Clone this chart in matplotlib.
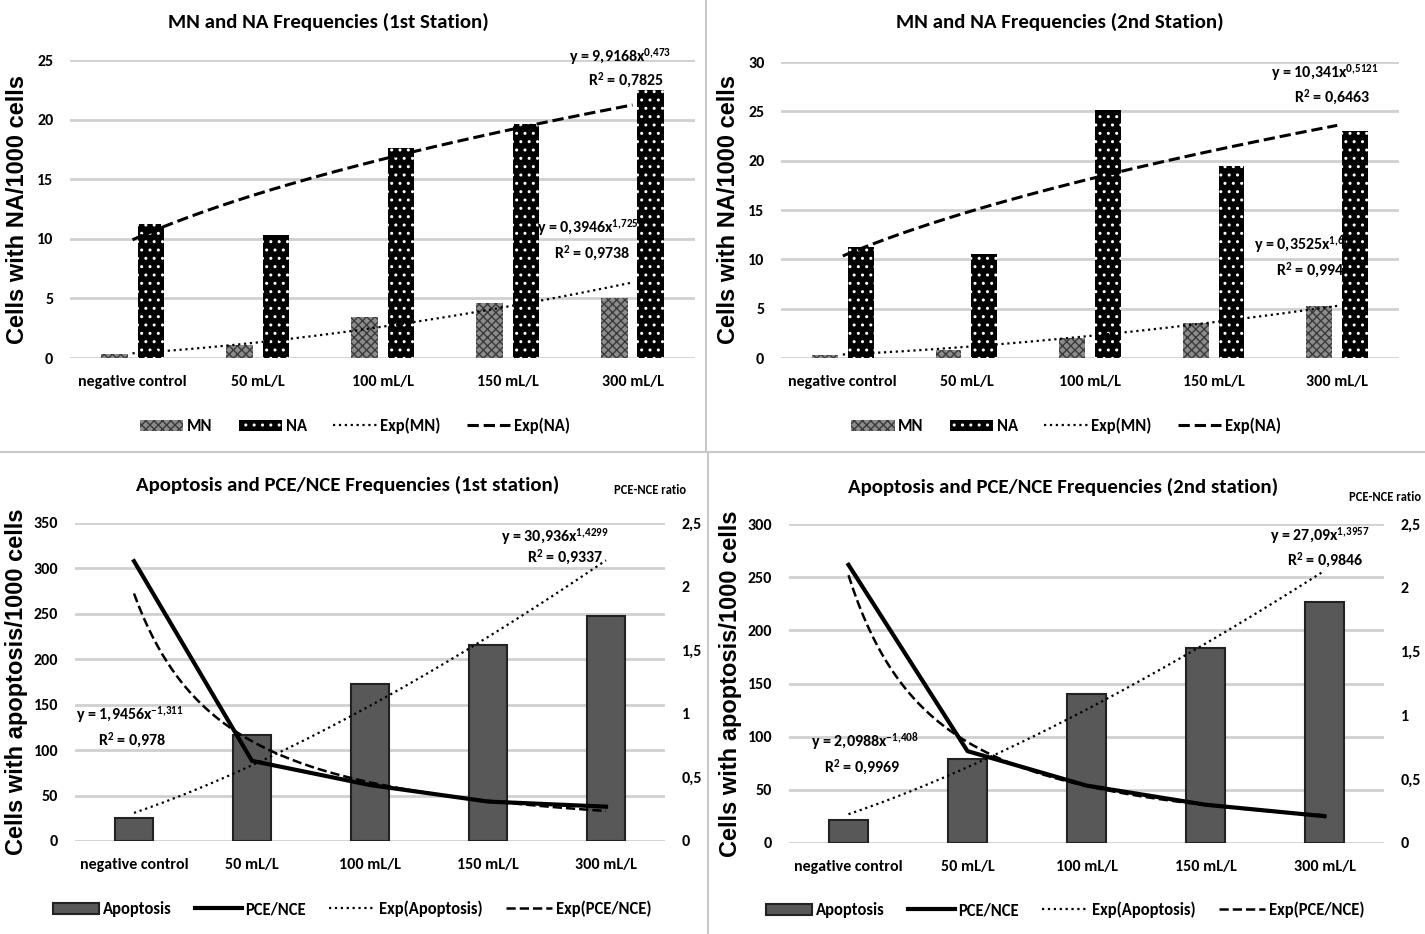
import matplotlib.pyplot as plt
import matplotlib.lines as mlines
import numpy as np

plt.rcParams['font.family'] = ['Carlito', 'Lato', 'DejaVu Sans']
plt.rcParams['font.weight'] = 'bold'
plt.rcParams['mathtext.default'] = 'regular'
plt.rcParams['hatch.linewidth'] = 1.0

W, H = 1425, 934

categories = ['negative control', '50 mL/L', '100 mL/L', '150 mL/L', '300 mL/L']

# bar / line values
mn_st1 = [0.3, 1.1, 3.4, 4.6, 5.0]
na_st1 = [11.2, 10.3, 17.6, 19.6, 22.5]
mn_st2 = [0.3, 0.8, 2.0, 3.5, 5.3]
na_st2 = [11.3, 10.5, 25.1, 19.5, 23.0]
apop_st1 = [25, 117, 173, 216, 248]
pce_st1 = [2.2, 0.63, 0.44, 0.31, 0.27]
apop_st2 = [22, 79, 140, 183, 227]
pce_st2 = [2.18, 0.72, 0.45, 0.30, 0.21]

# power trendlines y = a * x^b as printed on the charts
fit_mn_st1 = (0.3946, 1.725)
fit_na_st1 = (9.9168, 0.473)
fit_mn_st2 = (0.3525, 1.682)
fit_na_st2 = (10.341, 0.5121)
fit_apop_st1 = (30.936, 1.4299)
fit_pce_st1 = (1.9456, -1.311)
fit_apop_st2 = (27.09, 1.3957)
fit_pce_st2 = (2.0988, -1.408)

ratio_ticks = [0, 0.5, 1, 1.5, 2, 2.5]
ratio_labels = ['0', '0,5', '1', '1,5', '2', '2,5']

fig = plt.figure(figsize=(W / 100, H / 100), dpi=100)


def px_axes(x0, y0, x1, y1):
    return fig.add_axes([x0 / W, 1 - y1 / H, (x1 - x0) / W, (y1 - y0) / H])


def px_text(x, y, s, **kw):
    kw.setdefault('ha', 'center')
    kw.setdefault('va', 'center')
    fig.text(x / W, 1 - y / H, s, **kw)


def trend(ax, fit, **kw):
    a, b = fit
    xs = np.linspace(1, 5, 200)
    return ax.plot(xs - 1, a * xs ** b, color='black', zorder=4, **kw)[0]


def style(ax, top, step):
    ax.set_xlim(-0.5, 4.5)
    ax.set_ylim(0, top)
    ax.set_yticks(np.arange(0, top + 0.01, step))
    ax.set_xticks(range(5))
    ax.set_xticklabels(categories, fontsize=11.5)
    ax.tick_params(length=0, labelsize=11.5, pad=12)
    ax.grid(axis='y', color='#d0d0d0', lw=2)
    ax.set_axisbelow(True)
    for s in ax.spines.values():
        s.set_visible(False)


def equations(eqs):
    for ex, ey, s in eqs:
        px_text(ex, ey, s, fontsize=11.5)


def mn_na_panel(rect, mn, na, fit_mn, fit_na, top, step, title, tx, eqs, legx):
    ax = px_axes(*rect)
    style(ax, top, step)
    x = np.arange(5)
    b1 = ax.bar(x - 0.145, mn, 0.21, color='#8c8c8c', edgecolor='#3a3a3a',
                hatch='xxxx', lw=0, zorder=2)
    b2 = ax.bar(x + 0.145, na, 0.21, color='black', edgecolor='white',
                hatch='..', lw=0, zorder=2)
    l1 = trend(ax, fit_mn, ls=':', lw=1.6)
    l2 = trend(ax, fit_na, ls='--', lw=2.2)
    ax.set_ylabel('Cells with NA/1000 cells', family='Liberation Sans',
                  fontweight='bold', fontsize=17, labelpad=6)
    px_text(tx, 22, title, fontsize=15)
    equations(eqs)
    fig.legend([b1, b2, l1, l2], ['MN', 'NA', 'Exp(MN)', 'Exp(NA)'],
               loc='center', bbox_to_anchor=(legx / W, 1 - 426 / H), ncol=4,
               frameon=False, fontsize=12, handlelength=2.6, columnspacing=1.6,
               handletextpad=0.2)


def apop_panel(rect, apop, pce, fit_apop, fit_pce, top, title, tx, ratio_xy,
               eqs, legy):
    ax = px_axes(*rect)
    style(ax, top, 50)
    x = np.arange(5)
    b1 = ax.bar(x, apop, 0.32, color='#585858', edgecolor='#222222', lw=1.5,
                zorder=2)
    l3 = trend(ax, fit_apop, ls=':', lw=1.6)
    ax.set_ylabel('Cells with apoptosis/1000 cells', family='Liberation Sans',
                  fontweight='bold', fontsize=17, labelpad=4)
    ax2 = ax.twinx()
    ax2.set_xlim(-0.5, 4.5)
    ax2.set_ylim(0, 2.5)
    ax2.set_yticks(ratio_ticks)
    ax2.set_yticklabels(ratio_labels)
    ax2.tick_params(length=0, labelsize=11.5, pad=12)
    for s in ax2.spines.values():
        s.set_visible(False)
    l2 = ax2.plot(x, pce, color='black', lw=3, zorder=5)[0]
    l4 = trend(ax2, fit_pce, ls='--', lw=1.8)
    px_text(tx, title[1], title[0], fontsize=15)
    px_text(ratio_xy[0], ratio_xy[1], 'PCE-NCE ratio', fontsize=9)
    equations(eqs)
    fig.legend([b1, l2, l3, l4],
               ['Apoptosis', 'PCE/NCE', 'Exp(Apoptosis)', 'Exp(PCE/NCE)'],
               loc='center', bbox_to_anchor=(legy[0] / W, 1 - legy[1] / H),
               ncol=4, frameon=False, fontsize=12, handlelength=2.8,
               columnspacing=1.4, handletextpad=0.2)


mn_na_panel((70, 60, 695, 358), mn_st1, na_st1, fit_mn_st1, fit_na_st1, 25, 5,
            'MN and NA Frequencies (1st Station)', 328,
            [(620, 57, r'y = 9,9168x$^{0{,}473}$'), (626, 80, r'R$^{2}$ = 0,7825'),
             (588, 228, r'y = 0,3946x$^{1{,}725}$'), (592, 253, r'R$^{2}$ = 0,9738')],
            355)
mn_na_panel((781, 62, 1399, 358), mn_st2, na_st2, fit_mn_st2, fit_na_st2, 30, 5,
            'MN and NA Frequencies (2nd Station)', 1060,
            [(1325, 73, r'y = 10,341x$^{0{,}5121}$'), (1332, 97, r'R$^{2}$ = 0,6463'),
             (1305, 245, r'y = 0,3525x$^{1{,}682}$'), (1310, 270, r'R$^{2}$ = 0,994')],
            1066)
apop_panel((75, 523, 665, 841), apop_st1, pce_st1, fit_apop_st1, fit_pce_st1, 350,
           ('Apoptosis and PCE/NCE Frequencies (1st station)', 485), 348, (650, 490),
           [(555, 537, r'y = 30,936x$^{1{,}4299}$'), (565, 557, r'R$^{2}$ = 0,9337'),
            (130, 715, r'y = 1,9456x$^{-1{,}311}$'), (132, 740, r'R$^{2}$ = 0,978')],
           (352, 909))
apop_panel((789, 524, 1384, 843), apop_st2, pce_st2, fit_apop_st2, fit_pce_st2, 300,
           ('Apoptosis and PCE/NCE Frequencies (2nd station)', 487), 1063, (1385, 497),
           [(1320, 536, r'y = 27,09x$^{1{,}3957}$'), (1325, 560, r'R$^{2}$ = 0,9846'),
            (865, 742, r'y = 2,0988x$^{-1{,}408}$'), (862, 767, r'R$^{2}$ = 0,9969')],
           (1065, 910))

# panel borders
for xs, ys in [([706, 706], [0, 452]), ([0, W], [452, 452]), ([708, 708], [452, H])]:
    fig.add_artist(mlines.Line2D([x / W for x in xs], [1 - y / H for y in ys],
                                 color='#c8c8c8', lw=1.5))

fig.savefig('out.png', dpi=100, facecolor='white')
